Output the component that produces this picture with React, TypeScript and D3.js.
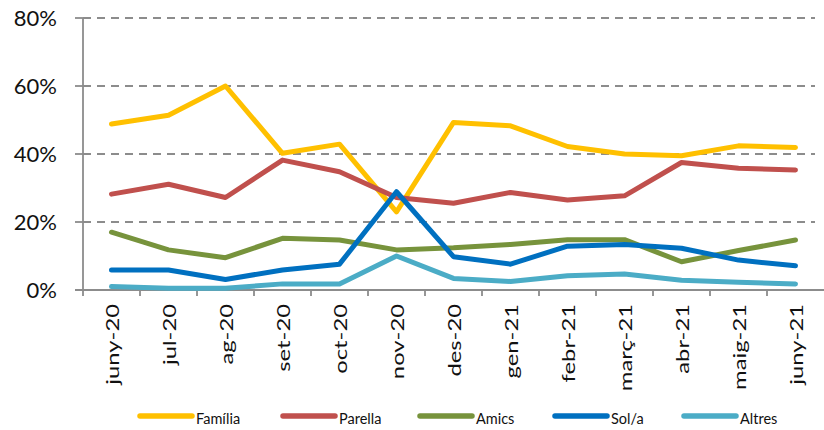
import React from "react";
import * as d3 from "d3";

const categories = ["juny-20","jul-20","ag-20","set-20","oct-20","nov-20","des-20","gen-21","febr-21","març-21","abr-21","maig-21","juny-21"];
const familia = [48.8,51.4,60.0,40.2,42.9,23.0,49.3,48.3,42.2,40.0,39.5,42.4,41.9];
const parella = [28.2,31.1,27.2,38.2,34.8,27.2,25.5,28.7,26.5,27.7,37.5,35.8,35.3];
const amics = [17.0,11.8,9.5,15.2,14.7,11.8,12.4,13.4,14.8,14.8,8.3,11.6,14.7];
const sola = [5.9,5.9,3.1,5.9,7.6,28.9,9.8,7.6,12.9,13.4,12.3,8.8,7.1];
const altres = [1.0,0.5,0.5,1.8,1.8,10.0,3.4,2.5,4.2,4.7,2.9,2.3,1.8];
const seriesNames = ["Família","Parella","Amics","Sol/a","Altres"];
const colors = ["#FFC000","#C0504D","#77933C","#0070C0","#4BACC6"];
const yTicks = [0,20,40,60,80];

export default function App() {
  const W = 824, H = 430;
  const left = 83, right = 824, top = 18, bottom = 290;
  const x = d3.scaleBand<string>().domain(categories).range([left, right]);
  const y = d3.scaleLinear().domain([0, 80]).range([bottom, top]);
  const data = [familia, parella, amics, sola, altres];
  const line = d3.line<number>()
    .x((_, i) => (x(categories[i]) as number) + x.bandwidth() / 2)
    .y(d => y(d));
  const font = "Lato, 'Open Sans', sans-serif";
  const legendX = [138, 281, 418, 553, 682];
  return (
    <svg width={W} height={H} style={{ position: "absolute", left: 0, top: 0 }}>
      <rect width={W} height={H} fill="#fff" />
      {yTicks.filter(t => t > 0).map(t => (
        <line key={t} x1={left} x2={815} y1={y(t)} y2={y(t)} stroke="#8c8c8c" strokeWidth={1.8} strokeDasharray="8,6" />
      ))}
      {yTicks.map(t => (
        <g key={"yt" + t}>
          <line x1={75} x2={left} y1={y(t)} y2={y(t)} stroke="#8c8c8c" strokeWidth={1.8} />
          <text x={57} y={y(t)} dy="0.36em" textAnchor="end" fontFamily={font} fontSize={22} fill="#111">{t}%</text>
        </g>
      ))}
      <line x1={left} x2={left} y1={top} y2={bottom} stroke="#8c8c8c" strokeWidth={1.8} />
      <line x1={left - 8} x2={right} y1={bottom} y2={bottom} stroke="#8c8c8c" strokeWidth={1.8} />
      {categories.map(c => (
        <line key={"xt" + c} x1={(x(c) as number)} x2={(x(c) as number)} y1={bottom} y2={bottom + 6} stroke="#8c8c8c" strokeWidth={1.8} />
      ))}
      {categories.map(c => {
        const cx = (x(c) as number) + x.bandwidth() / 2;
        return (
          <text key={"xl" + c} transform={`translate(${cx + 1},${304}) rotate(-90) scale(1.36,1)`} textAnchor="end" dy="0.36em" fontFamily={font} fontSize={17.5} fill="#111">{c}</text>
        );
      })}
      {data.map((s, k) => (
        <path key={seriesNames[k]} d={line(s) as string} fill="none" stroke={colors[k]} strokeWidth={5} strokeLinejoin="round" strokeLinecap="round" />
      ))}
      {seriesNames.map((n, k) => (
        <g key={"lg" + n}>
          <line x1={legendX[k] + 2} x2={legendX[k] + 54} y1={416} y2={416} stroke={colors[k]} strokeWidth={5.5} strokeLinecap="round" />
          <text x={legendX[k] + 58} y={419} dy="0.36em" fontFamily={font} fontSize={14.5} fill="#111">{n}</text>
        </g>
      ))}
    </svg>
  );
}
